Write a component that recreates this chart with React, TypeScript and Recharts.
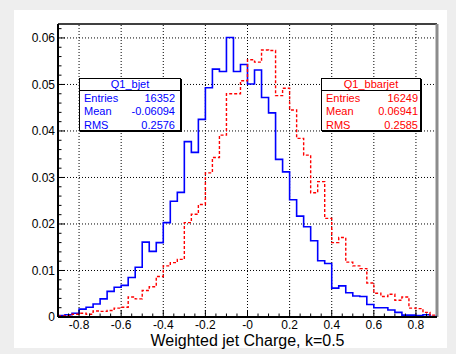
import React from 'react';
import { LineChart, Line, XAxis, YAxis, ReferenceLine } from 'recharts';

// histogram binning: 54 bins from -0.9 to 0.9
const binLow = -0.9;
const binWidth = 1 / 30;

// bin contents (normalised)
const bjet = [
  0.0003, 0.0005, 0.0008, 0.0017, 0.0021, 0.0028, 0.0039, 0.0055, 0.0064, 0.0068,
  0.0085, 0.0107, 0.0161, 0.0141, 0.016, 0.0203, 0.0249, 0.0268, 0.0377, 0.0354,
  0.0425, 0.0493, 0.0533, 0.0528, 0.0601, 0.0528, 0.0543, 0.0501, 0.0531, 0.0472,
  0.0439, 0.0339, 0.0312, 0.0252, 0.0217, 0.0194, 0.0164, 0.0121, 0.0115, 0.0062,
  0.0067, 0.0052, 0.0045, 0.0044, 0.0027, 0.002, 0.002, 0.0015, 0.001, 0.0004,
  0.0004, 0.0003, 0.0005, 0.0001,
];

const bbarjet = [
  0.0002, 0.0003, 0.0006, 0.0008, 0.0006, 0.0013, 0.0012, 0.0014, 0.0019, 0.0021,
  0.0043, 0.0039, 0.0057, 0.0065, 0.0087, 0.011, 0.0117, 0.0124, 0.0203, 0.0221,
  0.0242, 0.031, 0.0343, 0.0391, 0.048, 0.048, 0.0508, 0.0553, 0.0548, 0.0574,
  0.0573, 0.0476, 0.0492, 0.0445, 0.0384, 0.0348, 0.0267, 0.0291, 0.0212, 0.016,
  0.0171, 0.0118, 0.011, 0.0104, 0.0073, 0.0051, 0.0044, 0.0049, 0.0036, 0.0043,
  0.0019, 0.0018, 0.001, 0.0004,
];

const xMajor = [-0.8, -0.6, -0.4, -0.2, 0, 0.2, 0.4, 0.6, 0.8];
const yMajor = [0, 0.01, 0.02, 0.03, 0.04, 0.05, 0.06];

const statLabels = ['Entries', 'Mean', 'RMS'];
const bjetStats = ['16352', '-0.06094', '0.2576'];
const bbarjetStats = ['16249', '0.06941', '0.2585'];

const FONT = '"Liberation Sans", Arial, sans-serif';

// step edges: each bin's low edge, plus the last high edge
const data = Array.from({ length: bjet.length + 1 }, (_, i) => {
  const k = Math.min(i, bjet.length - 1);
  return {
    x: Number((binLow + i * binWidth).toFixed(5)),
    bjet: bjet[k],
    bbarjet: bbarjet[k],
  };
});

// minor ticks every 0.05 in x, 0.002 in y
const xTicks = Array.from({ length: 35 }, (_, i) => Number((-0.85 + i * 0.05).toFixed(2)));
const yTicks = Array.from({ length: 32 }, (_, i) => Number((i * 0.002).toFixed(3)));

const isMajor = (list: number[], v: number) => list.some((m) => Math.abs(m - v) < 1e-6);

const XTick = (props: any) => {
  const { x, y, payload } = props;
  const v = payload.value;
  const major = isMajor(xMajor, v);
  return (
    <g>
      <line x1={x} x2={x} y1={y} y2={y - (major ? 7 : 3.5)} stroke="#000" />
      {major && (
        <text x={x} y={y + 12} textAnchor="middle" fontSize={12} fill="#000" fontFamily={FONT}>
          {Math.abs(v) < 1e-6 ? '-0' : v.toFixed(1)}
        </text>
      )}
    </g>
  );
};

const YTick = (props: any) => {
  const { x, y, payload } = props;
  const v = payload.value;
  const major = isMajor(yMajor, v);
  return (
    <g>
      <line x1={x} x2={x + (major ? 7 : 3.5)} y1={y} y2={y} stroke="#000" />
      {major && (
        <text x={x - 3} y={y} dy="0.36em" textAnchor="end" fontSize={12} fill="#000" fontFamily={FONT}>
          {v === 0 ? '0' : v.toFixed(2)}
        </text>
      )}
    </g>
  );
};

const StatBox = ({
  left,
  top,
  width,
  color,
  title,
  values,
  padRight,
}: {
  left: number;
  top: number;
  width: number;
  color: string;
  title: string;
  values: string[];
  padRight: number;
}) => (
  <div
    style={{
      position: 'absolute',
      left,
      top,
      width,
      height: 53,
      boxSizing: 'border-box',
      border: '1px solid #000',
      boxShadow: '1px 1px 0 #000',
      background: '#fff',
      color,
      fontFamily: FONT,
      fontSize: 11,
    }}
  >
    <div style={{ height: 11, lineHeight: '11px', textAlign: 'center', borderBottom: '1px solid #000' }}>
      {title}
    </div>
    <div style={{ paddingTop: 1 }}>
      {statLabels.map((label, i) => (
        <div
          key={label}
          style={{
            display: 'flex',
            justifyContent: 'space-between',
            height: 13.3,
            lineHeight: '13.3px',
            paddingLeft: 4,
            paddingRight: padRight,
          }}
        >
          <span>{label}</span>
          <span>{values[i]}</span>
        </div>
      ))}
    </div>
  </div>
);

export default function App() {
  return (
    <div style={{ position: 'absolute', left: 0, top: 0, width: 456, height: 354, background: '#eeeeee' }}>
      <div style={{ position: 'absolute', left: 14, top: 10, width: 433, height: 338, background: '#fff' }} />
      <div style={{ position: 'absolute', left: 0, top: 0 }}>
        <LineChart width={456} height={354} data={data} margin={{ top: 24, right: 19, bottom: 7, left: 8 }}>
          {xMajor.map((v) => (
            <ReferenceLine key={`gx${v}`} x={v} stroke="#000" strokeDasharray="1 2" />
          ))}
          {yMajor.filter((v) => v > 0).map((v) => (
            <ReferenceLine key={`gy${v}`} y={v} stroke="#000" strokeDasharray="1 2" />
          ))}
          <ReferenceLine y={0.063} stroke="#000" strokeWidth={1.5} />
          <ReferenceLine x={0.9} stroke="#8c8c8c" strokeWidth={3} />
          <XAxis
            dataKey="x"
            type="number"
            domain={[-0.9, 0.9]}
            allowDataOverflow
            ticks={xTicks}
            interval={0}
            tick={XTick}
            tickLine={false}
            tickSize={0}
            tickMargin={0}
            height={30}
            axisLine={{ stroke: '#000', strokeWidth: 2 }}
            label={{
              value: 'Weighted jet Charge, k=0.5',
              position: 'insideBottom',
              offset: 1,
              style: { fontSize: 16, fill: '#000', fontFamily: FONT },
            }}
          />
          <YAxis
            type="number"
            domain={[0, 0.063]}
            allowDataOverflow
            ticks={yTicks}
            interval={0}
            tick={YTick}
            tickLine={false}
            tickSize={0}
            tickMargin={0}
            width={50}
            axisLine={{ stroke: '#000', strokeWidth: 2 }}
          />
          <Line
            dataKey="bjet"
            type="stepAfter"
            stroke="#0000ff"
            strokeWidth={1.6}
            dot={false}
            isAnimationActive={false}
          />
          <Line
            dataKey="bbarjet"
            type="stepAfter"
            stroke="#ff0000"
            strokeWidth={1.4}
            strokeDasharray="3 2"
            dot={false}
            isAnimationActive={false}
          />
        </LineChart>
      </div>
      <StatBox left={79} top={78} width={102} color="#0000ff" title="Q1_bjet" values={bjetStats} padRight={5} />
      <StatBox left={321} top={78} width={100} color="#ff0000" title="Q1_bbarjet" values={bbarjetStats} padRight={2} />
    </div>
  );
}
